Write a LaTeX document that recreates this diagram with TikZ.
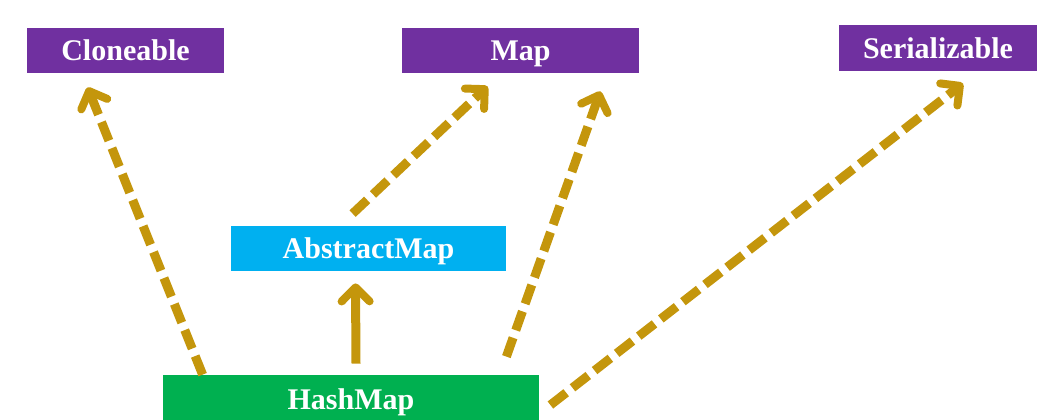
\documentclass[tikz,border=0pt]{standalone}
\usepackage{fontspec}
\setmainfont{Liberation Serif}
\usetikzlibrary{positioning,calc,arrows.meta}

\definecolor{ifacepurple}{HTML}{7030A0}
\definecolor{absblue}{HTML}{00B0F0}
\definecolor{implgreen}{HTML}{00B050}
\definecolor{arrowgold}{HTML}{C4960C}

\begin{document}
\begin{tikzpicture}[x=0.5pt,y=-0.5pt]
  \useasboundingbox (0,0) rectangle (1060,419);
  \begin{scope}[
    every node/.style={
      rectangle,
      text=white,
      inner sep=0pt,
      minimum height=22.5pt,
      text height=10pt,
      text depth=0pt,
      font=\fontsize{15pt}{18pt}\selectfont\bfseries,
    },
    ]
    % Cloneable
    \node [fill=ifacepurple,minimum width=98.5pt] (Cloneable) at (125.5,50.5) {Cloneable};

    % Map
    \node [fill=ifacepurple,minimum width=118.5pt] (Map) at (520.5,50.5) {Map};

    % Serializable
    \node [fill=ifacepurple,minimum width=99pt,minimum height=23pt] (Serializable) at (938,48) {Serializable};

    % AbstractMap
    \node [fill=absblue,minimum width=137.5pt] (AbstractMap) at (368.5,248.5) {AbstractMap};

    % HashMap
    \node [fill=implgreen,minimum width=188pt,minimum height=24pt] (HashMap) at (351,399) {HashMap};
  \end{scope}
  \begin{scope}[
    myarrow/.style={
      draw=arrowgold,
      line width=4.5pt,
      -{Straight Barb[length=7pt,width=14pt,line width=4pt,round]},
    },
    mydashed/.style={
      myarrow,
      dash pattern=on 10pt off 4pt,
    },
    ]
    % Path HashMap
    \draw [mydashed] ([xshift=20pt]HashMap.north west) -- ([xshift=30.5pt,yshift=-7pt]Cloneable.south west);
    \draw [myarrow] ([xshift=2.5pt,yshift=5.5pt]HashMap.north) -- ([xshift=-6.5pt,yshift=-6pt]AbstractMap.south);
    \draw [mydashed] ([xshift=-16.5pt,yshift=9pt]HashMap.north east) -- ([xshift=-19.5pt,yshift=-9pt]Map.south east);
    \draw [mydashed] ([xshift=5.5pt,yshift=-3pt]HashMap.east) -- ([xshift=12.5pt,yshift=-6pt]Serializable.south);

    % Path AbstractMap
    \draw [mydashed] ([xshift=61pt,yshift=6pt]AbstractMap.north west) -- ([xshift=43pt,yshift=-6.5pt]Map.south west);
  \end{scope}
\end{tikzpicture}
\end{document}
